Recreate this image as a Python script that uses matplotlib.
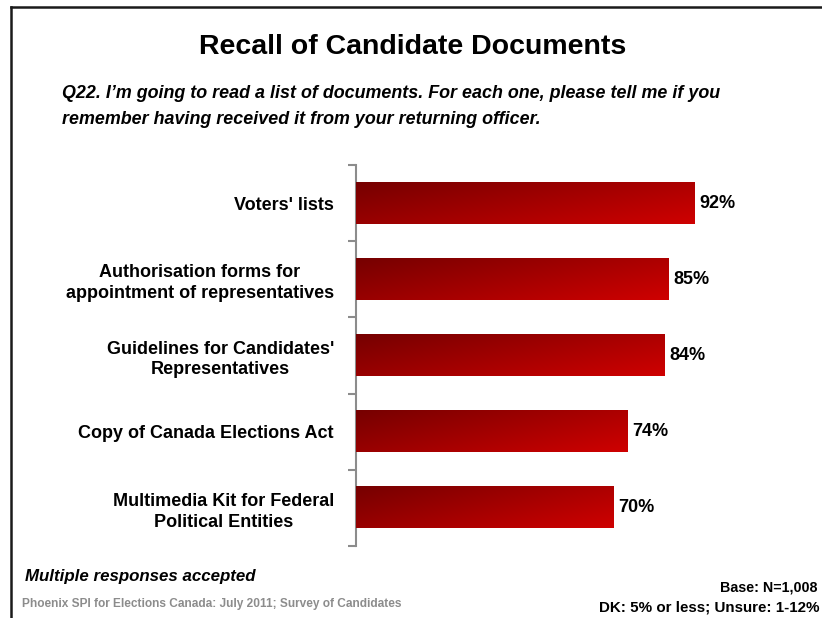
import matplotlib.pyplot as plt
import numpy as np
from matplotlib.lines import Line2D

plt.rcParams['font.family'] = ['Liberation Sans Narrow', 'Liberation Sans', 'DejaVu Sans']

categories = [
    "Voters' lists",
    "Authorisation forms for\nappointment of representatives",
    "Guidelines for Candidates'\nRepresentatives",
    "Copy of Canada Elections Act",
    "Multimedia Kit for Federal\nPolitical Entities",
]
values = [92, 85, 84, 74, 70]

W, H = 822, 618
fig = plt.figure(figsize=(W / 100, H / 100), dpi=100)

# plot area in pixel terms
left, right, top, bottom = 356, 723.5, 165, 546
ax = fig.add_axes([left / W, 1 - bottom / H, (right - left) / W, (bottom - top) / H])

y = np.arange(len(categories))
bars = ax.barh(y, values, height=0.54, color='#a80000', zorder=2)

# diagonal dark-to-bright red fill for every bar
c0 = np.array([0x76, 0x00, 0x00]) / 255
c1 = np.array([0xcf, 0x00, 0x00]) / 255
gx, gy = np.meshgrid(np.linspace(0, 1, 200), np.linspace(0, 1, 40))
t = 0.62 * gx + 0.38 * gy
grad = c0 + (c1 - c0) * t[..., None]
for b, v in zip(bars, values):
    x0, y0 = b.get_x(), b.get_y()
    w, h = b.get_width(), b.get_height()
    ax.imshow(grad, extent=(x0, x0 + w, y0 + h, y0), aspect='auto',
              interpolation='bilinear', zorder=3)
    ax.text(x0 + w + 1.3, y0 + h / 2, f"{v}%",
            va='center', ha='left', fontsize=13, fontweight='bold')
ax.set_xlim(0, 100)
ax.set_ylim(len(categories) - 0.5, -0.5)

for s in ['top', 'right', 'bottom']:
    ax.spines[s].set_visible(False)
ax.spines['left'].set_color('#8c8c8c')
ax.spines['left'].set_linewidth(1.5)
ax.set_xticks([])
ax.set_yticks(np.arange(len(categories) + 1) - 0.5)
ax.set_yticklabels([])
ax.tick_params(axis='y', length=6, width=1.5, color='#8c8c8c')
ax.set_yticks(y, minor=True)
ax.set_yticklabels(categories, minor=True, fontsize=13, fontweight='bold',
                   ha='right', multialignment='center', linespacing=1.3)
ax.tick_params(axis='y', which='minor', length=0, pad=16)

fig.text(413 / W, 1 - 47 / H, "Recall of Candidate Documents", ha='center',
         va='center', fontsize=20.5, fontweight='bold')
fig.text(62 / W, 1 - 94 / H,
         "Q22. I\u2019m going to read a list of documents. For each one, please tell me if you",
         ha='left', va='center', fontsize=12.9, fontweight='bold', style='italic')
fig.text(62 / W, 1 - 120 / H,
         "remember having received it from your returning officer.",
         ha='left', va='center', fontsize=12.9, fontweight='bold', style='italic')

fig.text(25 / W, 1 - 577 / H, "Multiple responses accepted", ha='left',
         va='center', fontsize=12.2, fontweight='bold', style='italic')
fig.text(22 / W, 1 - 604 / H,
         "Phoenix SPI for Elections Canada: July 2011; Survey of Candidates",
         ha='left', va='center', fontsize=8.6, fontweight='bold', color='#8c8c8c')
fig.text(817 / W, 1 - 588 / H, "Base: N=1,008", ha='right', va='center',
         fontsize=10.3, fontweight='bold')
fig.text(819 / W, 1 - 607 / H, "DK: 5% or less; Unsure: 1-12%", ha='right',
         va='center', fontsize=10.9, fontweight='bold')

# frame along top and left edges
fig.add_artist(Line2D([11 / W, 11 / W], [0, 1 - 7 / H], color='#1a1a1a', lw=1.8))
fig.add_artist(Line2D([11 / W, 1], [1 - 7 / H, 1 - 7 / H], color='#1a1a1a', lw=1.8))

fig.savefig('out.png', dpi=100)
